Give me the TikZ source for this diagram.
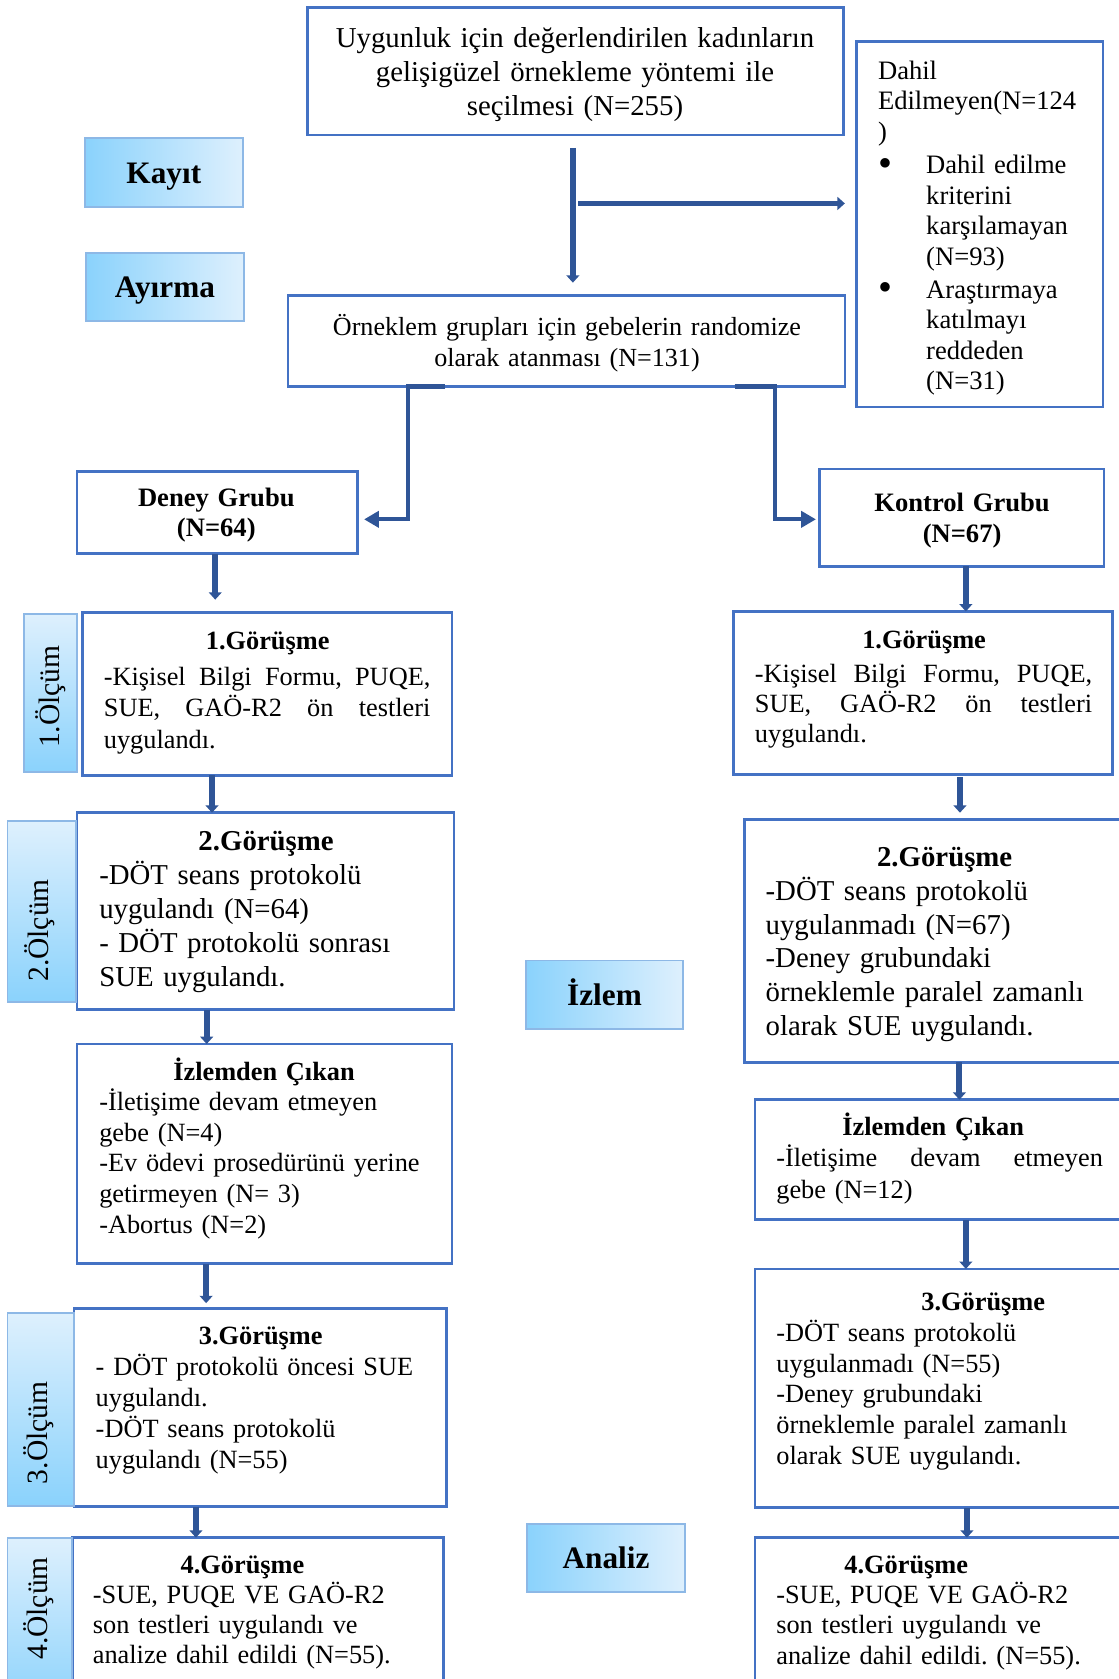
\documentclass[tikz,border=0pt]{standalone}
\usepackage{fontspec}
\setmainfont{Liberation Serif}
\usetikzlibrary{arrows.meta,calc}
\frenchspacing
\newdimen\px \px=0.435pt
\definecolor{bxc}{HTML}{4472C4}
\definecolor{arc}{HTML}{2F5597}
\definecolor{lbd}{HTML}{8AD2FC}
\definecolor{lbl}{HTML}{DEF0FD}
\definecolor{lbb}{HTML}{8DB8E6}
\newcommand\jl[2]{\leavevmode\hbox to #1{#2}}
\newcommand\ttl[2]{\makebox[#1][c]{\bfseries #2}}
\newcommand\bul{\makebox[45\px][l]{\raisebox{-0.9pt}{\scalebox{1.5}{•}}}}
\begin{document}
\begin{tikzpicture}[x=0.435pt,y=-0.435pt,
  box/.style={draw=bxc,line width=1.1pt,fill=white,inner sep=0pt,outer sep=0pt},
  lab/.style={draw=lbb,line width=0.8pt,left color=lbd,right color=lbl,inner sep=0pt,outer sep=0pt,font=\fontsize{12.7}{14}\selectfont\bfseries,text height=8.7pt,text depth=0pt},
  vlab/.style={draw=lbb,line width=0.8pt,top color=lbl,bottom color=lbd,inner sep=0pt,outer sep=0pt},
  vtx/.style={rotate=90,anchor=base west,inner sep=0pt,outer sep=0pt,font=\fontsize{12}{14}\selectfont},
  tx/.style={inner sep=0pt,outer sep=0pt,align=left,anchor=base west,text width=400\px},
  ctx/.style={inner sep=0pt,outer sep=0pt,align=center,anchor=base},
  arrA/.style={draw=arc,line width=2.4pt,-{Triangle[width=5.2pt,length=3pt]}},
  arrB/.style={draw=arc,line width=1.7pt,-{Triangle[width=6.5pt,length=6pt]}}]
\useasboundingbox (0,0) rectangle (1045,1568);
\clip (0,0) rectangle (1045,1568);

% frames
\node[box,minimum width=501\px,minimum height=119\px] (top) at (537.5,66.5) {};
\node[box,minimum width=230\px,minimum height=341\px] (dahil) at (915,209.5) {};
\node[box,minimum width=520\px,minimum height=85\px] (orn) at (529,318.5) {};
\node[box,minimum width=262\px,minimum height=77\px] (deney) at (203,478.5) {};
\node[box,minimum width=266\px,minimum height=91\px] (kontrol) at (898,483.5) {};
\node[box,minimum width=345\px,minimum height=152\px] (g1L) at (249.5,648) {};
\node[box,minimum width=354\px,minimum height=152\px] (g1R) at (862,647) {};
\node[box,minimum width=352\px,minimum height=184\px] (g2L) at (248,851) {};
\node[box,minimum width=380\px,minimum height=227\px] (g2R) at (885,878.5) {};
\node[box,minimum width=350\px,minimum height=205\px] (izL) at (247,1077.5) {};
\node[box,minimum width=370\px,minimum height=112\px] (izR) at (890,1083) {};
\node[box,minimum width=348\px,minimum height=185\px] (g3L) at (243,1314.5) {};
\node[box,minimum width=370\px,minimum height=223\px] (g3R) at (890,1296.5) {};
\node[box,minimum width=346\px,minimum height=164\px] (g4L) at (241,1518) {};
\node[box,minimum width=370\px,minimum height=164\px] (g4R) at (890,1518) {};

% side labels
\node[lab,minimum width=148\px,minimum height=64\px] (kayit) at (153,161) {Kayıt};
\node[lab,minimum width=148\px,minimum height=64\px] (ayirma) at (154,268) {Ayırma};
\node[lab,minimum width=147\px,minimum height=64\px] (izlem) at (564.5,929) {İzlem};
\node[lab,minimum width=148\px,minimum height=64\px] (analiz) at (566,1455) {Analiz};
\node[vlab,minimum width=50\px,minimum height=148\px] (o1) at (47,647) {};
\node[vlab,minimum width=64\px,minimum height=169\px] (o2) at (39,851.5) {};
\node[vlab,minimum width=62\px,minimum height=180\px] (o3) at (38,1316) {};
\node[vlab,minimum width=60\px,minimum height=164\px] (o4) at (37,1518) {};
\node[vtx] (o1t) at (55.7,698.5) {1.Ölçüm};
\node[vtx] (o2t) at (45.7,916.8) {2.Ölçüm};
\node[vtx] (o3t) at (44,1386) {3.Ölçüm};
\node[vtx] (o4t) at (44,1550) {4.Ölçüm};

% texts
\node[ctx,text width=480\px,font=\fontsize{11.7}{13.8}\selectfont] (topt) at (537,44) {Uygunluk için değerlendirilen kadınların\\gelişigüzel örnekleme yöntemi ile\\seçilmesi (N=255)};
\node[ctx,text width=500\px,font=\fontsize{10.6}{12.83}\selectfont] (ornt) at (529.5,313) {Örneklem grupları için gebelerin randomize\\olarak atanması (N=131)};
\node[tx,font=\fontsize{10.8}{12.38}\selectfont] (dahilt) at (820,74) {Dahil\\Edilmeyen(N=124\\)\\[1.3pt]\bul Dahil edilme\\\hspace*{45\px}kriterini\\\hspace*{45\px}karşılamayan\\\hspace*{45\px}(N=93)\\[1pt]\bul Araştırmaya\\\hspace*{45\px}katılmayı\\\hspace*{45\px}reddeden\\\hspace*{45\px}(N=31)};
\node[ctx,text width=240\px,font=\fontsize{10.8}{12.18}\selectfont\bfseries] (deneyt) at (202,473.2) {Deney Grubu\\(N=64)};
\node[ctx,text width=240\px,font=\fontsize{10.8}{12.6}\selectfont\bfseries] (kontrolt) at (898.5,477.8) {Kontrol Grubu\\(N=67)};
\node[tx,font=\fontsize{10.7}{12.9}\selectfont] (g1Lt) at (97,606.4) {\ttl{306\px}{1.Görüşme}\\[1.6pt]\jl{305\px}{-Kişisel\hfill Bilgi\hfill Formu,\hfill PUQE,}\\\jl{305\px}{SUE,\hfill GAÖ-R2\hfill ön\hfill testleri}\\uygulandı.};
\node[tx,font=\fontsize{10.7}{12.1}\selectfont] (g1Rt) at (705,605.5) {\ttl{316\px}{1.Görüşme}\\[1.8pt]\jl{315\px}{-Kişisel\hfill Bilgi\hfill Formu,\hfill PUQE,}\\\jl{315\px}{SUE,\hfill GAÖ-R2\hfill ön\hfill testleri}\\uygulandı.};
\node[tx,font=\fontsize{11.7}{13.8}\selectfont] (g2Lt) at (92.7,794.4) {\ttl{311.6\px}{2.Görüşme}\\-DÖT seans protokolü\\uygulandı (N=64)\\- DÖT protokolü sonrası\\SUE uygulandı.};
\node[tx,font=\fontsize{10.7}{12.45}\selectfont] (izLt) at (92.7,1008.6) {\ttl{307.8\px}{İzlemden Çıkan}\\-İletişime devam etmeyen\\gebe (N=4)\\-Ev ödevi prosedürünü yerine\\getirmeyen (N= 3)\\-Abortus (N=2)};
\node[tx,font=\fontsize{10.7}{12.5}\selectfont] (g3Lt) at (89.4,1256) {\ttl{308.2\px}{3.Görüşme}\\- DÖT protokolü öncesi SUE\\uygulandı.\\-DÖT seans protokolü\\uygulandı (N=55)};
\node[tx,font=\fontsize{10.7}{12.2}\selectfont] (g4Lt) at (86.7,1469.3) {\ttl{279.6\px}{4.Görüşme}\\-SUE, PUQE VE GAÖ-R2\\son testleri uygulandı ve\\analize dahil edildi (N=55).};
\node[tx,font=\fontsize{11.7}{13.7}\selectfont] (g2Rt) at (715,809.4) {\ttl{334.4\px}{2.Görüşme}\\-DÖT seans protokolü\\uygulanmadı (N=67)\\-Deney grubundaki\\örneklemle paralel zamanlı\\olarak SUE uygulandı.};
\node[tx,font=\fontsize{10.7}{12.8}\selectfont] (izRt) at (725,1060) {\ttl{293\px}{İzlemden Çıkan}\\\jl{305\px}{-İletişime\hfill devam\hfill etmeyen}\\gebe (N=12)};
\node[tx,font=\fontsize{10.7}{12.5}\selectfont] (g3Rt) at (725,1224) {\ttl{386.4\px}{3.Görüşme}\\-DÖT seans protokolü\\uygulanmadı (N=55)\\-Deney grubundaki\\örneklemle paralel zamanlı\\olarak SUE uygulandı.};
\node[tx,font=\fontsize{10.7}{12.3}\selectfont] (g4Rt) at (725,1469.3) {\ttl{242.6\px}{4.Görüşme}\\-SUE, PUQE VE GAÖ-R2\\son testleri uygulandı ve\\analize dahil edildi. (N=55).};

% connectors
\coordinate (split) at ($(top.south)+(2.5,64)$);
\draw[arrA] ($(top.south)+(-2.5,12)$) -- ($(orn.north)+(6,-12)$);
\draw[arrA] (split) -- ($(split -| dahil.west)+(-11,0)$);
\draw[arrB] ($(orn.south west)+(147,0)$) -- ++(-35,0) |- ($(deney.east)+(6,6.5)$);
\draw[arrB] ($(orn.south west)+(417,0)$) -- ++(38,0) |- ($(kontrol.west)+(-3,1.5)$);
\draw[arrA] ($(deney.south)+(-2,0)$) -- ($(deney.south |- g1L.north)+(-2,-12)$);
\draw[arrA] ($(g1L.south west)+(121,0)$) -- ($(g1L.south west |- g2L.north)+(121,0)$);
\draw[arrA] ($(g2L.south west)+(121,0)$) -- ($(g2L.south west |- izL.north)+(121,0)$);
\draw[arrA] ($(izL.south west)+(120.5,0)$) -- ($(izL.south west |- g3L.north)+(120.5,-5)$);
\draw[arrA] ($(g3L.south west)+(114,0)$) -- ($(g3L.south west |- g4L.north)+(114,0)$);
\draw[arrA] ($(kontrol.south)+(4,0)$) -- ($(kontrol.south |- g1R.north)+(4,0)$);
\draw[arrA] ($(g1R.south)+(34.5,3)$) -- ($(g1R.south |- g2R.north)+(34.5,-6)$);
\draw[arrA] ($(g2R.south west)+(201,0)$) -- ($(g2R.south west |- izR.north)+(201,0)$);
\draw[arrA] ($(izR.south west)+(197,0)$) -- ($(izR.south west |- g3R.north)+(197,0)$);
\draw[arrA] ($(g3R.south west)+(198,0)$) -- ($(g3R.south west |- g4R.north)+(198,0)$);
\end{tikzpicture}
\end{document}
